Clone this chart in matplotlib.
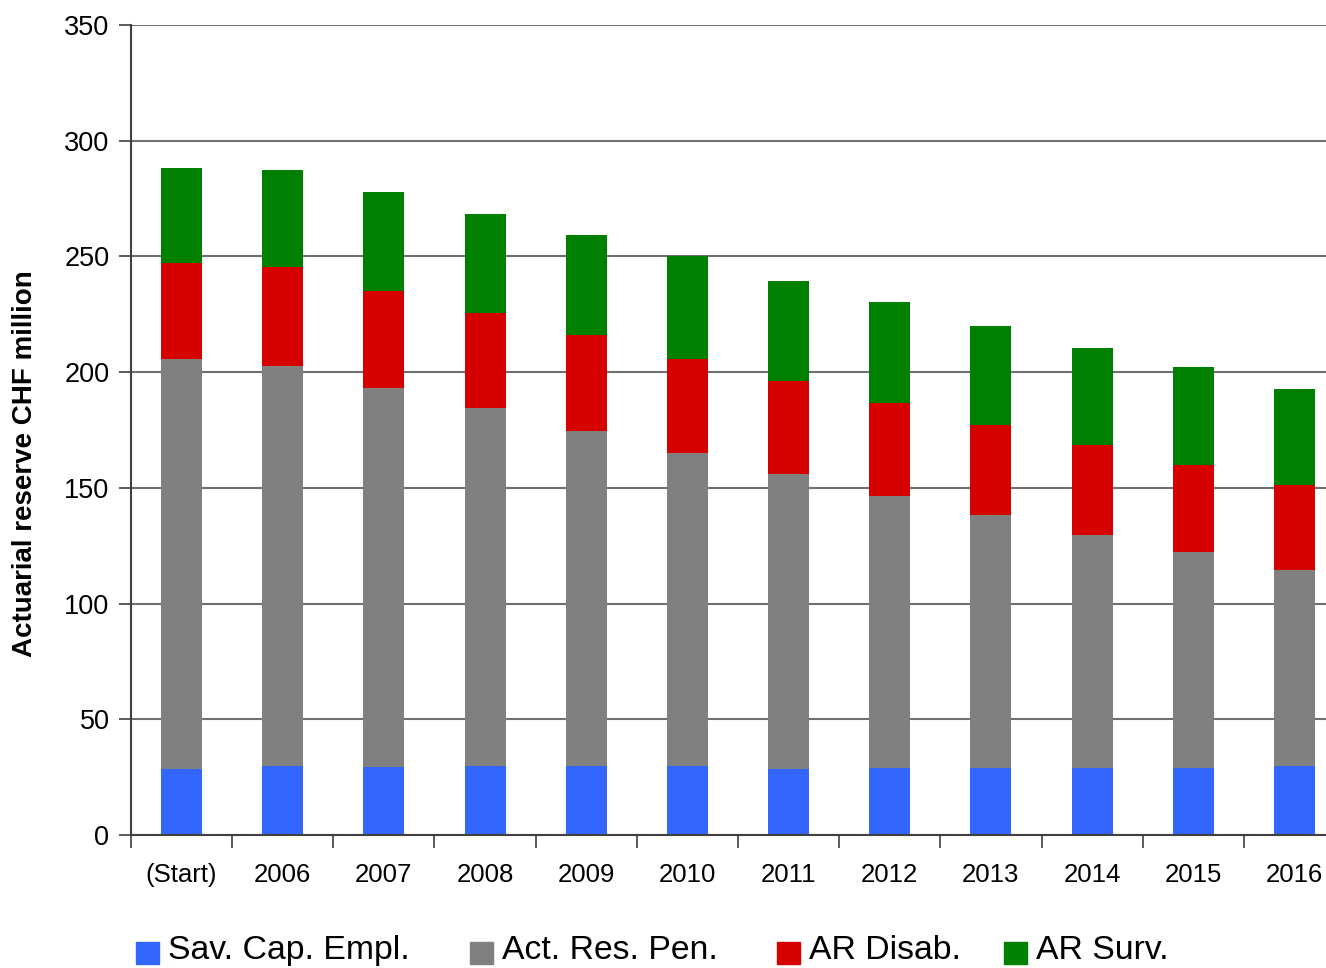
import numpy as np
import matplotlib
matplotlib.use("Agg")
import matplotlib.pyplot as plt
from matplotlib.patches import Rectangle

plt.rcParams['font.family'] = ['Liberation Sans', 'DejaVu Sans']

# categories and cumulative tops of each stacked segment (CHF million)
jahre = ['(Start)', '2006', '2007', '2008', '2009', '2010',
         '2011', '2012', '2013', '2014', '2015', '2016']
sav_cap = [28.5, 30.0, 29.4, 30.0, 29.8, 29.8, 28.5, 29.0, 29.1, 29.1, 29.1, 30.0]
top_pen = [205.8, 202.8, 193.0, 184.4, 174.7, 165.2, 156.1, 146.6, 138.3, 129.7, 122.4, 114.6]
top_dis = [247.0, 245.3, 234.9, 225.4, 216.2, 205.8, 196.3, 186.5, 177.0, 168.4, 159.9, 151.3]
top_surv = [288.4, 287.5, 278.0, 268.5, 259.4, 250.3, 239.5, 230.4, 220.1, 210.6, 202.3, 192.8]

sav_cap = np.array(sav_cap)
act_pen = np.array(top_pen) - sav_cap
ar_dis = np.array(top_dis) - np.array(top_pen)
ar_surv = np.array(top_surv) - np.array(top_dis)

nombres = ['Sav. Cap. Empl.', 'Act. Res. Pen.', 'AR Disab.', 'AR Surv.']
colores = ['#3366FF', '#808080', '#D60000', '#008000']

W, H = 1326, 968
fig = plt.figure(figsize=(W / 100, H / 100), dpi=100)
# plot area runs past the right edge of the image
ax = fig.add_axes([131 / W, 133 / H, 1214 / W, 810 / H])

x = np.arange(len(jahre))
base = np.zeros(len(jahre))
for vals, col in zip([sav_cap, act_pen, ar_dis, ar_surv], colores):
    ax.bar(x, vals, bottom=base, width=0.405, color=col, zorder=3)
    base = base + vals

ax.set_xlim(-0.5, len(jahre) - 0.5)
ax.set_ylim(0, 350)
ax.set_yticks(np.arange(0, 351, 50))
ax.yaxis.grid(True, color='#707070', linewidth=1.5, zorder=0)
ax.set_xticks(x)
ax.set_xticklabels(jahre)
ax.set_xticks(np.arange(-0.5, len(jahre), 1.0), minor=True)
ax.tick_params(axis='x', which='major', length=0, pad=20, labelsize=18.5)
ax.tick_params(axis='x', which='minor', length=9, width=1.2, color='#404040')
ax.tick_params(axis='y', length=9, width=1.2, color='#404040', pad=6.5, labelsize=19.5)

for s in ['top', 'right']:
    ax.spines[s].set_visible(False)
for s in ['left', 'bottom']:
    ax.spines[s].set_color('#404040')
    ax.spines[s].set_linewidth(1.5)
    ax.spines[s].set_zorder(4)

ax.set_ylabel('Actuarial reserve CHF million', fontsize=20, fontweight='bold')
ax.yaxis.set_label_coords(-93 / 1214, (835 - 464) / 810)

# legend drawn by hand along the bottom
leg_x = [136, 470, 777, 1004]
for lx, nom, col in zip(leg_x, nombres, colores):
    fig.add_artist(Rectangle((lx / W, (H - 964) / H), 23 / W, 22 / H,
                             transform=fig.transFigure, color=col))
    fig.text((lx + 32) / W, (H - 959) / H, nom, fontsize=24.3,
             ha='left', va='baseline')

fig.savefig('out.png', dpi=100)
